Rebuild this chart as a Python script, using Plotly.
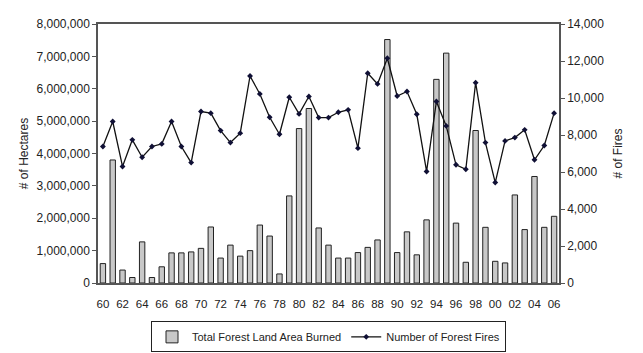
import plotly.graph_objects as go

years = list(range(1960, 2007))
area_burned = [600000, 3800000, 400000, 170000, 1270000, 170000, 500000, 930000, 930000, 960000,
               1070000, 1730000, 770000, 1170000, 830000, 1000000, 1790000, 1450000, 280000, 2690000,
               4770000, 5390000, 1700000, 1170000, 770000, 770000, 940000, 1100000, 1330000, 7520000,
               940000, 1580000, 870000, 1950000, 6290000, 7100000, 1850000, 640000, 4710000, 1720000,
               670000, 620000, 2720000, 1650000, 3290000, 1720000, 2060000]
num_fires = [7380, 8730, 6300, 7740, 6800, 7380, 7520, 8730, 7380, 6510,
             9270, 9180, 8240, 7590, 8100, 11190, 10220, 8960, 8040, 10040,
             9140, 10080, 8940, 8940, 9230, 9360, 7290, 11340, 10760, 12150,
             10110, 10350, 9120, 6030, 9810, 8490, 6390, 6150, 10830, 7590,
             5430, 7680, 7860, 8280, 6660, 7430, 9180]
tick_years = list(range(1960, 2007, 2))
tick_labels = [f"{y % 100:02d}" for y in tick_years]
boundaries = [y - 0.5 for y in years] + [years[-1] + 0.5]

font = "Liberation Sans, Arial, sans-serif"
axis_col = "#555555"
xrange = [years[0] - 0.5, years[-1] + 0.5]

fig = go.Figure()
fig.add_trace(go.Bar(
    x=years, y=area_burned, name="Total Forest Land Area Burned",
    marker=dict(color="#c8c8c8", line=dict(color="#222222", width=1)),
    width=0.55, yaxis="y"))
fig.add_trace(go.Scatter(
    x=years, y=num_fires, name="Number of Forest Fires", mode="lines+markers",
    line=dict(color="#111111", width=1.3),
    marker=dict(symbol="diamond", size=4.5, color="#101035"),
    yaxis="y2"))

fig.update_layout(
    width=643, height=353,
    margin=dict(l=98, r=84, t=24, b=70, autoexpand=False),
    paper_bgcolor="white", plot_bgcolor="white",
    font=dict(family=font, size=12, color="#222222"),
    bargap=0.4,
    xaxis=dict(range=xrange, tickmode="array", tickvals=tick_years, ticktext=tick_labels,
               showline=True, linecolor=axis_col, linewidth=1.5, mirror=True,
               ticks="", showgrid=False, zeroline=False,
               tickfont=dict(size=11.5), ticklabelstandoff=9),
    xaxis2=dict(range=xrange, overlaying="x", anchor="y", side="bottom",
                tickmode="array", tickvals=boundaries, showticklabels=False,
                ticks="outside", ticklen=4, tickcolor=axis_col, tickwidth=1,
                showline=False, showgrid=False, zeroline=False),
    yaxis=dict(range=[0, 8000000], dtick=1000000, tickformat=",",
               showline=True, linecolor=axis_col, linewidth=1.5,
               ticks="outside", ticklen=4, tickcolor=axis_col,
               showgrid=False, zeroline=False,
               title=dict(text="# of Hectares", font=dict(size=12), standoff=5)),
    yaxis2=dict(range=[0, 14000], dtick=2000, tickformat=",", overlaying="y", side="right",
                showline=True, linecolor=axis_col, linewidth=1.5,
                ticks="outside", ticklen=4, tickcolor=axis_col,
                showgrid=False, zeroline=False,
                title=dict(text="# of Fires", font=dict(size=12), standoff=10)),
    legend=dict(orientation="h", x=0.5, xanchor="center", y=-0.208, yanchor="middle",
                bordercolor="#222222", borderwidth=1, font=dict(size=11),
                tracegroupgap=0, itemwidth=30),
    showlegend=True,
)

fig.write_html("out.html")
